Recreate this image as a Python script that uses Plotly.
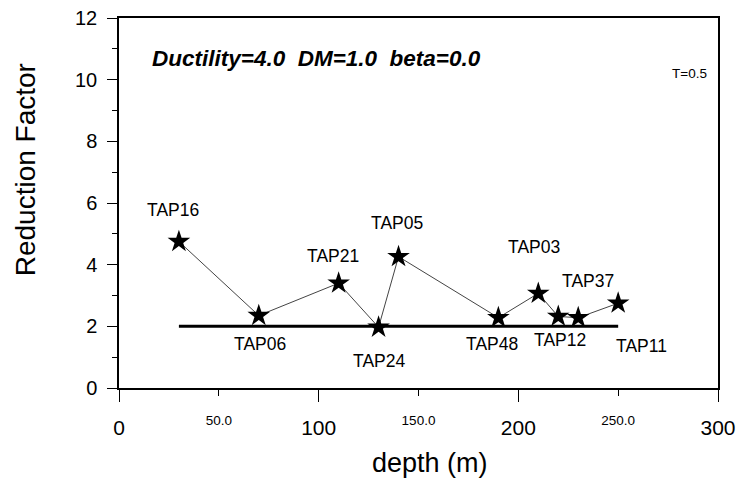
import plotly.graph_objects as go

# ---- data ----
depth = [30, 70, 110, 130, 140, 190, 210, 220, 230, 250]
reduction = [4.75, 2.35, 3.40, 1.97, 4.26, 2.28, 3.07, 2.32, 2.28, 2.75]
site_labels = ["TAP16", "TAP06", "TAP21", "TAP24", "TAP05",
               "TAP48", "TAP03", "TAP12", "TAP37", "TAP11"]
ref_depth = [30, 250]
ref_value = [2.0, 2.0]
x_major_ticks = [0, 100, 200, 300]
x_major_text = ["0", "100", "200", "300"]
x_mid_ticks = [50, 150, 250]
x_mid_text = ["50.0", "150.0", "250.0"]
y_ticks = [0, 2, 4, 6, 8, 10, 12]

# label offsets in pixels (style, not data)
label_dx = [-6, 1, -6, 0, -2, -6, -4, 2, 10, 23]
label_dy = [32, -28, 27, -34, 34, -26, 46, -24, 37, -43]

FONT = "Arial, Liberation Sans, sans-serif"

fig = go.Figure()
fig.add_trace(go.Scatter(
    x=ref_depth, y=ref_value, mode="lines",
    line=dict(color="black", width=3), showlegend=False, hoverinfo="skip"))
fig.add_trace(go.Scatter(
    x=depth, y=reduction, mode="lines+markers",
    line=dict(color="#444444", width=1),
    marker=dict(symbol="star", size=17, color="black"),
    showlegend=False))
# invisible trace to activate the secondary x axis
fig.add_trace(go.Scatter(x=[0, 300], y=[0, 0], xaxis="x2", mode="lines",
                         line=dict(width=0), showlegend=False, hoverinfo="skip"))

for x, y, t, dx, dy in zip(depth, reduction, site_labels, label_dx, label_dy):
    fig.add_annotation(x=x, y=y, text=t, showarrow=False, xshift=dx, yshift=dy,
                       xanchor="center", yanchor="middle",
                       font=dict(family=FONT, size=17.5, color="black"))

fig.add_annotation(xref="paper", yref="paper", x=0.052, y=0.89, xanchor="left",
                   yanchor="middle", showarrow=False,
                   text="<b><i>Ductility=4.0  DM=1.0  beta=0.0</i></b>",
                   font=dict(family=FONT, size=22.5, color="black"))
fig.add_annotation(xref="paper", yref="paper", x=0.953, y=0.85, showarrow=False,
                   xanchor="center", yanchor="middle",
                   text="T=0.5", font=dict(family=FONT, size=13.5, color="black"))
fig.add_annotation(xref="paper", yref="paper", x=-0.157, y=0.591, showarrow=False,
                   xanchor="center", yanchor="middle",
                   text="Reduction Factor", textangle=-90,
                   font=dict(family=FONT, size=28, color="black"))
fig.add_annotation(xref="paper", yref="paper", x=0.519, y=-0.204, showarrow=False,
                   xanchor="center", yanchor="middle",
                   text="depth (m)", font=dict(family=FONT, size=27, color="black"))

fig.update_layout(
    width=736, height=480,
    margin=dict(l=119, r=18, t=18, b=92, autoexpand=False),
    paper_bgcolor="white", plot_bgcolor="white",
    font=dict(family=FONT, color="black"),
    xaxis=dict(range=[0, 300], tickvals=x_major_ticks, ticktext=x_major_text,
               automargin=False, ticklabelstandoff=8, ticklabeloverflow="allow",
               ticks="outside", ticklen=12, tickwidth=1.2, tickcolor="black",
               minor=dict(tickvals=x_mid_ticks, ticks="outside", ticklen=6,
                          tickcolor="black", tickwidth=1.2),
               showline=True, linecolor="black", linewidth=1.5, mirror=True,
               showgrid=False, zeroline=False,
               tickfont=dict(family=FONT, size=21)),
    xaxis2=dict(range=[0, 300], overlaying="x", anchor="y", side="bottom",
                automargin=False, ticklabelstandoff=10, ticklabeloverflow="allow",
                tickvals=x_mid_ticks, ticktext=x_mid_text,
                ticks="outside", ticklen=10, tickcolor="rgba(0,0,0,0)",
                showline=False, showgrid=False, zeroline=False,
                tickfont=dict(family=FONT, size=13.5)),
    yaxis=dict(range=[0, 12], tickvals=y_ticks, automargin=False,
               ticklabelstandoff=6, ticklabeloverflow="allow",
               ticks="outside", ticklen=10, tickwidth=1.2, tickcolor="black",
               minor=dict(dtick=1, ticks="outside", ticklen=5,
                          tickcolor="black", tickwidth=1.2),
               showline=True, linecolor="black", linewidth=1.5, mirror=True,
               showgrid=False, zeroline=False,
               tickfont=dict(family=FONT, size=20)),
)

fig.write_html("out.html",
               config={"displayModeBar": False},
               post_script="document.body.style.margin='0';"
                           "document.body.style.overflow='hidden';")
